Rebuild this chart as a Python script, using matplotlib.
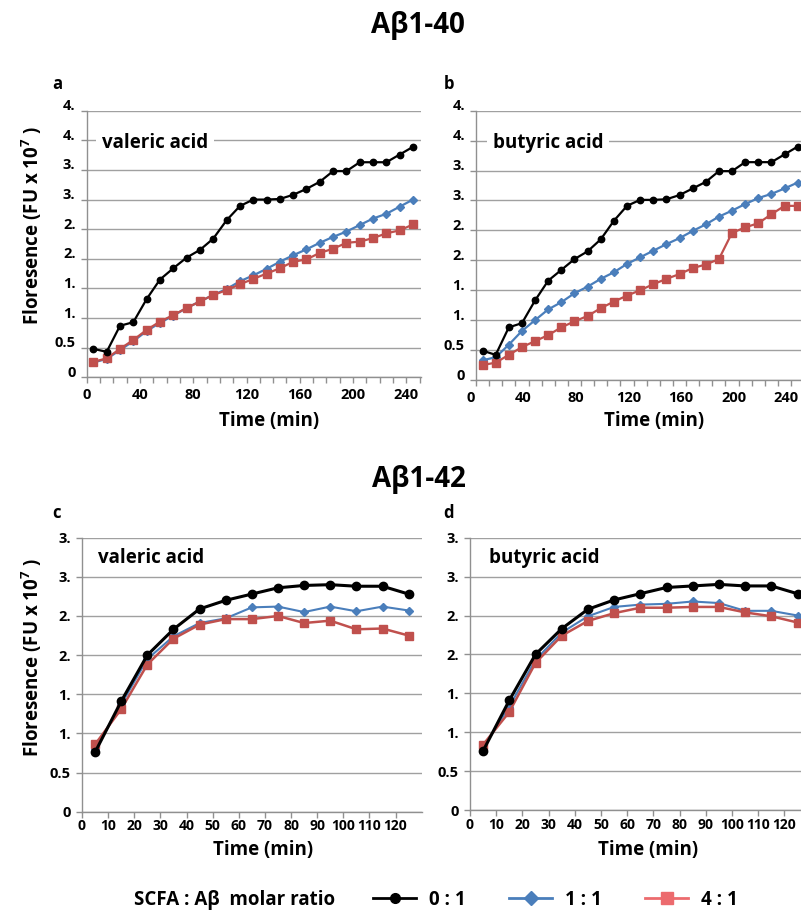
import numpy as np
import matplotlib
matplotlib.use("Agg")
import matplotlib.pyplot as plt
from matplotlib.lines import Line2D
from matplotlib.transforms import ScaledTranslation

plt.rcParams['font.family'] = ['Open Sans', 'Noto Sans', 'DejaVu Sans']
plt.rcParams['font.weight'] = 'bold'
plt.rcParams['mathtext.fontset'] = 'custom'
plt.rcParams['mathtext.rm'] = 'Open Sans:bold'
plt.rcParams['mathtext.bf'] = 'Open Sans:bold'

# time points (min)
t40 = [5, 15, 25, 35, 45, 55, 65, 75, 85, 95, 105, 115, 125, 135, 145,
       155, 165, 175, 185, 195, 205, 215, 225, 235, 245]
t42 = [5, 15, 25, 35, 45, 55, 65, 75, 85, 95, 105, 115, 125]

# Abeta 1-40, valeric acid
val40_01 = [0.48, 0.43, 0.87, 0.93, 1.32, 1.65, 1.84, 2.02, 2.15, 2.34, 2.65, 2.89, 3.00,
            3.00, 3.01, 3.08, 3.18, 3.30, 3.48, 3.48, 3.63, 3.63, 3.63, 3.76, 3.89]
val40_11 = [0.25, 0.31, 0.46, 0.61, 0.78, 0.92, 1.04, 1.17, 1.28, 1.39, 1.49, 1.62, 1.72,
            1.83, 1.95, 2.06, 2.16, 2.27, 2.37, 2.46, 2.57, 2.68, 2.76, 2.88, 3.00]
val40_41 = [0.26, 0.32, 0.48, 0.63, 0.80, 0.94, 1.05, 1.17, 1.28, 1.39, 1.47, 1.57, 1.66,
            1.75, 1.84, 1.95, 1.99, 2.10, 2.17, 2.27, 2.29, 2.35, 2.43, 2.48, 2.58]

# Abeta 1-40, butyric acid
but40_01 = [0.49, 0.42, 0.88, 0.95, 1.33, 1.66, 1.84, 2.02, 2.15, 2.35, 2.66, 2.91, 3.01,
            3.01, 3.02, 3.09, 3.20, 3.31, 3.49, 3.49, 3.64, 3.64, 3.64, 3.77, 3.90]
but40_11 = [0.33, 0.38, 0.59, 0.82, 1.00, 1.18, 1.30, 1.45, 1.56, 1.69, 1.80, 1.94, 2.05,
            2.16, 2.27, 2.37, 2.49, 2.60, 2.73, 2.83, 2.94, 3.04, 3.11, 3.20, 3.30]
but40_41 = [0.25, 0.29, 0.42, 0.55, 0.65, 0.75, 0.88, 0.98, 1.07, 1.20, 1.31, 1.41, 1.50,
            1.60, 1.69, 1.77, 1.87, 1.93, 2.02, 2.46, 2.55, 2.62, 2.77, 2.91, 2.91]

# Abeta 1-42, valeric acid
val42_01 = [0.76, 1.41, 2.00, 2.33, 2.59, 2.70, 2.78, 2.86, 2.89, 2.90, 2.88, 2.88, 2.78]
val42_11 = [0.80, 1.37, 1.95, 2.24, 2.41, 2.47, 2.61, 2.62, 2.55, 2.62, 2.56, 2.62, 2.57]
val42_41 = [0.86, 1.31, 1.88, 2.21, 2.39, 2.46, 2.46, 2.50, 2.41, 2.44, 2.33, 2.34, 2.25]

# Abeta 1-42, butyric acid
but42_01 = [0.76, 1.41, 2.00, 2.33, 2.58, 2.70, 2.78, 2.86, 2.88, 2.90, 2.88, 2.88, 2.78]
but42_11 = [0.80, 1.33, 1.93, 2.28, 2.49, 2.61, 2.64, 2.65, 2.68, 2.66, 2.56, 2.56, 2.50]
but42_41 = [0.84, 1.26, 1.89, 2.24, 2.43, 2.53, 2.60, 2.60, 2.61, 2.61, 2.54, 2.49, 2.41]

yticks40 = [0, 0.5, 1.0, 1.5, 2.0, 2.5, 3.0, 3.5, 4.0, 4.5]
ylabels40 = ['0', '0.5', '1.', '1.', '2.', '2.', '3.', '3.', '4.', '4.']
yticks42 = [0, 0.5, 1.0, 1.5, 2.0, 2.5, 3.0, 3.5]
ylabels42 = ['0', '0.5', '1.', '1.', '2.', '2.', '3.', '3.']

BLACK = 'black'
BLUE = '#4a7ebb'
RED = '#c0504d'
GRID = '#a0a0a0'

W, H = 801, 911
fig = plt.figure(figsize=(W / 100, H / 100), dpi=100)


def add_ax(left, top, right, bottom):
    return fig.add_axes([left / W, 1 - bottom / H, (right - left) / W, (bottom - top) / H])


def shift(labels, dx, dy):
    off = ScaledTranslation(dx / 100, dy / 100, fig.dpi_scale_trans)
    for lab in labels:
        lab.set_transform(lab.get_transform() + off)


def style(ax, yticks, ylabels, ymax, xmax, xmajor, lift=0):
    ax.set_ylim(0, ymax)
    ax.set_xlim(0, xmax)
    ax.set_yticks(yticks)
    ax.set_yticklabels(ylabels)
    ax.set_xticks(np.arange(0, xmax, xmajor))
    ax.set_xticks(np.arange(0, xmax, 10), minor=True)
    ax.set_xticklabels([str(v) for v in np.arange(0, xmax, xmajor)])
    ax.grid(axis='y', color=GRID, lw=1.0)
    ax.set_axisbelow(True)
    for s in ['top', 'right']:
        ax.spines[s].set_visible(False)
    for s in ['left', 'bottom']:
        ax.spines[s].set_color('#909090')
        ax.spines[s].set_linewidth(1.0)
    ax.tick_params(axis='both', which='both', direction='out', length=4,
                   color='#909090', width=1.0, labelsize=10.5)
    ax.tick_params(axis='y', pad=4)
    if lift:
        shift(ax.get_yticklabels(), 0, lift)


def draw(ax, t, y01, y11, y41, big):
    if big:
        ax.plot(t, y11, color=BLUE, lw=1.6, marker='D', ms=4.2, zorder=3, clip_on=False)
        ax.plot(t, y41, color=RED, lw=1.6, marker='s', ms=5.8, zorder=4, clip_on=False)
        ax.plot(t, y01, color=BLACK, lw=1.6, marker='o', ms=4.6, zorder=5, clip_on=False)
    else:
        ax.plot(t, y11, color=BLUE, lw=1.5, marker='D', ms=4.3, zorder=3, clip_on=False)
        ax.plot(t, y41, color=RED, lw=1.8, marker='s', ms=5.8, zorder=4, clip_on=False)
        ax.plot(t, y01, color=BLACK, lw=2.2, marker='o', ms=6.0, zorder=5, clip_on=False)


axa = add_ax(86.7, 110.7, 421, 377.3)
axb = add_ax(476, 110.7, 476 + 260 * 1.313, 380)
axc = add_ax(82, 537.7, 421.7, 811.7)
axd = add_ax(470, 537.7, 470 + 130 * 2.62, 810)

style(axa, yticks40, ylabels40, 4.5, 251, 40, lift=6)
style(axb, yticks40, ylabels40, 4.5, 260, 40, lift=6)
style(axc, yticks42, ylabels42, 3.5, 130, 10)
style(axd, yticks42, ylabels42, 3.5, 130, 10)
for ax in (axa, axb):
    ax.tick_params(axis='x', pad=4)
shift(axb.get_xticklabels(), -5, 0)
for ax in (axc, axd):
    ax.tick_params(axis='x', pad=1.5, labelsize=10)

draw(axa, t40, val40_01, val40_11, val40_41, True)
draw(axb, t40, but40_01, but40_11, but40_41, True)
draw(axc, t42, val42_01, val42_11, val42_41, False)
draw(axd, t42, but42_01, but42_11, but42_41, False)

box = dict(facecolor='white', edgecolor='none', pad=4)
fig.text(102 / W, 1 - 143 / H, 'valeric acid', fontsize=13.5, va='center', ha='left', bbox=box)
fig.text(493 / W, 1 - 143 / H, 'butyric acid', fontsize=13.5, va='center', ha='left', bbox=box)
fig.text(98 / W, 1 - 558 / H, 'valeric acid', fontsize=13.5, va='center', ha='left', bbox=box)
fig.text(489 / W, 1 - 558 / H, 'butyric acid', fontsize=13.5, va='center', ha='left', bbox=box)

fig.text(418 / W, 1 - 25 / H, 'Aβ1-40', fontsize=20, ha='center', va='center')
fig.text(419 / W, 1 - 480 / H, 'Aβ1-42', fontsize=20, ha='center', va='center')

for lab, x, y in [('a', 57, 84), ('b', 449, 84), ('c', 57, 513), ('d', 448, 513)]:
    fig.text(x / W, 1 - y / H, lab, fontsize=12, ha='center', va='center')

ylab = 'Floresence (FU x 10$^{7}$ )'
fig.text(32 / W, 1 - 226 / H, ylab, fontsize=13.5, rotation=90, ha='center', va='center')
fig.text(32 / W, 1 - 658 / H, ylab, fontsize=13.5, rotation=90, ha='center', va='center')

for x, y in [(269, 421), (654, 421), (263, 850), (648, 850)]:
    fig.text(x / W, 1 - y / H, 'Time (min)', fontsize=13.5, ha='center', va='center')

# legend
fig.text(134 / W, 1 - 900 / H, 'SCFA : Aβ  molar ratio', fontsize=13.5, ha='left', va='center')
handles = [Line2D([], [], color=BLACK, lw=2, marker='o', ms=7),
           Line2D([], [], color=BLUE, lw=2, marker='D', ms=7),
           Line2D([], [], color='#ec6b6e', lw=2, marker='s', ms=8)]
fig.legend(handles, ['0 : 1', '1 : 1', '4 : 1'], loc='center left',
           bbox_to_anchor=(373 / W, 1 - 900 / H), ncol=3, frameon=False,
           fontsize=13.5, handlelength=2.3, handletextpad=0.7, columnspacing=2.3,
           borderaxespad=0, borderpad=0)

fig.savefig('out.png', dpi=100)
